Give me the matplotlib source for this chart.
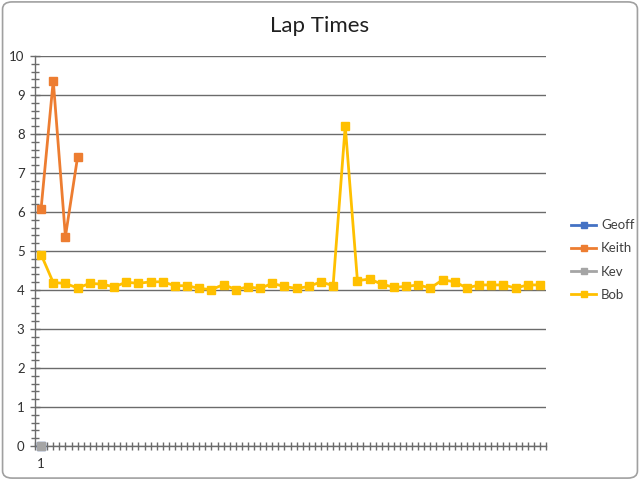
import matplotlib
matplotlib.use("Agg")
import matplotlib.pyplot as plt
from matplotlib.patches import FancyBboxPatch
from matplotlib.ticker import MultipleLocator, FixedLocator, NullFormatter
import numpy as np

title = "Lap Times"
series_names = ["Geoff", "Keith", "Kev", "Bob"]
colors = ["#4472C4", "#ED7D31", "#A5A5A5", "#FFC000"]
geoff = [0.0]
keith = [6.08, 9.37, 5.37, 7.41]
kev = [0.0]
bob = [4.91, 4.19, 4.17, 4.05, 4.17, 4.15, 4.08, 4.20, 4.17, 4.21,
       4.21, 4.11, 4.11, 4.04, 4.01, 4.14, 4.01, 4.08, 4.04, 4.17,
       4.09, 4.04, 4.09, 4.21, 4.11, 8.21, 4.24, 4.28, 4.15, 4.07,
       4.09, 4.13, 4.05, 4.26, 4.21, 4.05, 4.13, 4.13, 4.13, 4.05,
       4.13, 4.13]
n_categories = 42
first_label = "1"

plt.rcParams['font.family'] = ['Lato', 'DejaVu Sans']

fig = plt.figure(figsize=(6.4, 4.8), dpi=100)
border = FancyBboxPatch((0.004, 0.004), 0.992, 0.992,
                        boxstyle="round,pad=0,rounding_size=0.015",
                        transform=fig.transFigure, facecolor="white",
                        edgecolor="#A0A0A0", linewidth=1.2, zorder=-10)
fig.patches.append(border)

ax = fig.add_axes([35/640, 1-446/480, 511/640, 390/480])
ax.set_facecolor("none")

for name, vals, c in zip(series_names, [geoff, keith, kev, bob], colors):
    x = np.arange(len(vals))
    ax.plot(x, vals, color=c, lw=2, marker='s', markersize=5.5,
            label=name, zorder=3, clip_on=False)

ax.set_xlim(-0.5, n_categories - 0.5)
ax.set_ylim(0, 10)

ax.yaxis.set_major_locator(MultipleLocator(1))
ax.yaxis.set_minor_locator(MultipleLocator(0.2))
ax.grid(axis='y', which='major', color='#6b6b6b', lw=1, zorder=1)

ax.xaxis.set_major_locator(FixedLocator([0]))
ax.set_xticklabels([first_label])
ax.xaxis.set_minor_locator(FixedLocator(np.arange(-0.5, n_categories, 0.5)))
ax.xaxis.set_minor_formatter(NullFormatter())

for s in ['top', 'right']:
    ax.spines[s].set_visible(False)
for s in ['left', 'bottom']:
    ax.spines[s].set_color('#6b6b6b')
    ax.spines[s].set_linewidth(1)

ax.tick_params(axis='y', which='major', direction='inout', length=7, width=1,
               color='#6b6b6b', labelsize=9.5, labelcolor='#303030', pad=4)
ax.tick_params(axis='y', which='minor', direction='inout', length=6, width=1,
               color='#6b6b6b')
ax.tick_params(axis='x', which='major', direction='inout', length=0,
               labelsize=9.5, labelcolor='#303030', pad=9)
ax.tick_params(axis='x', which='minor', direction='inout', length=6, width=1,
               color='#6b6b6b')

fig.text(0.5, 1 - 26/480, title, ha='center', va='center', fontsize=16,
         color='#202020')

leg = ax.legend(loc='center left', bbox_to_anchor=(562/640, 1 - 260/480),
                bbox_transform=fig.transFigure, frameon=False, fontsize=9.5,
                handlelength=1.9, labelspacing=0.85, handletextpad=0.35,
                borderpad=0.2, markerscale=0.9)
for t in leg.get_texts():
    t.set_color('#404040')

fig.savefig("out.png", dpi=100)
